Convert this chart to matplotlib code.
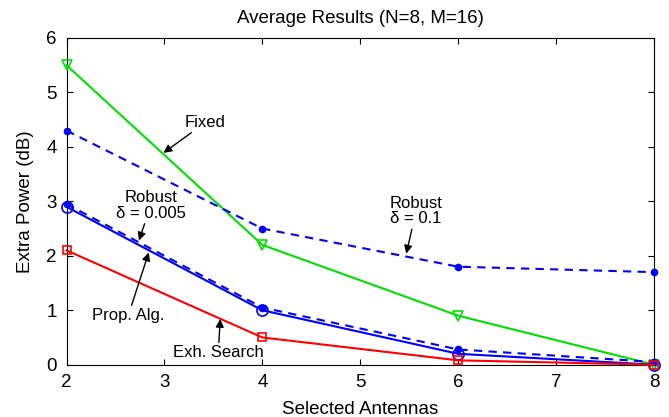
import matplotlib
matplotlib.use("Agg")
import matplotlib.pyplot as plt

plt.rcParams['font.family'] = ['Liberation Sans', 'DejaVu Sans']

antennas = [2, 4, 6, 8]
fixed = [5.5, 2.2, 0.9, 0.0]
robust_01 = [4.3, 2.5, 1.8, 1.7]
robust_0005 = [2.95, 1.05, 0.28, 0.05]
prop_alg = [2.9, 1.0, 0.2, 0.0]
exh_search = [2.1, 0.5, 0.08, 0.0]

fig = plt.figure(figsize=(6.69, 4.17), dpi=100)
ax = fig.add_axes([66.5/669, 1-364.7/417, (654-66.5)/669, (364.7-38)/417])

green = '#00e000'
ax.plot(antennas, fixed, color=green, lw=1.5, marker='v', mfc='none', mec=green, ms=7, mew=1.2, clip_on=False, zorder=3)
ax.plot(antennas, robust_01, color='blue', lw=1.5, ls=(0, (4, 3)), marker='o', ms=4.5, mfc='blue', mec='blue', clip_on=False, zorder=3)
ax.plot(antennas, robust_0005, color='blue', lw=1.5, ls=(0, (4, 3)), marker='o', ms=4.5, mfc='blue', mec='blue', clip_on=False, zorder=3)
ax.plot(antennas, prop_alg, color='blue', lw=1.5, marker='o', mfc='none', mec='blue', ms=8, mew=1.2, clip_on=False, zorder=3)
ax.plot(antennas, exh_search, color='red', lw=1.5, marker='s', mfc='none', mec='red', ms=6, mew=1.2, clip_on=False, zorder=3)

ax.set_xlim(2, 8)
ax.set_ylim(0, 6)
ax.set_xticks([2, 3, 4, 5, 6, 7, 8])
ax.set_yticks([0, 1, 2, 3, 4, 5, 6])
ax.tick_params(direction='in', labelsize=13.5, length=4, top=True, right=True, pad=7)
for s in ax.spines.values():
    s.set_linewidth(0.8)
ax.set_xlabel('Selected Antennas', fontsize=13.5, labelpad=7)
ax.set_ylabel('Extra Power (dB)', fontsize=13.5, labelpad=9)
ax.set_title('Average Results (N=8, M=16)', fontsize=13.5, pad=11)

ap = dict(arrowstyle='-|>', color='black', lw=1.0, mutation_scale=12, shrinkA=0, shrinkB=0)
fs = 12
ax.annotate('Fixed', xy=(2.99, 3.89), xytext=(3.42, 4.45), ha='center', va='center', fontsize=fs, arrowprops=ap)
ax.annotate('Robust\nδ = 0.1', xy=(5.47, 2.04), xytext=(5.57, 2.82), ha='center', va='center',
            fontsize=fs, linespacing=1.05, arrowprops=ap)
ax.annotate('Robust\nδ = 0.005', xy=(2.74, 2.28), xytext=(2.86, 2.92), ha='center', va='center',
            fontsize=fs, linespacing=1.05, arrowprops=ap)
ax.annotate('Prop. Alg.', xy=(2.84, 2.06), xytext=(2.63, 0.9), ha='center', va='center', fontsize=fs, arrowprops=ap)
ax.annotate('Exh. Search', xy=(3.57, 0.84), xytext=(3.55, 0.22), ha='center', va='center', fontsize=fs, arrowprops=ap)

fig.savefig('out.png', dpi=100)
